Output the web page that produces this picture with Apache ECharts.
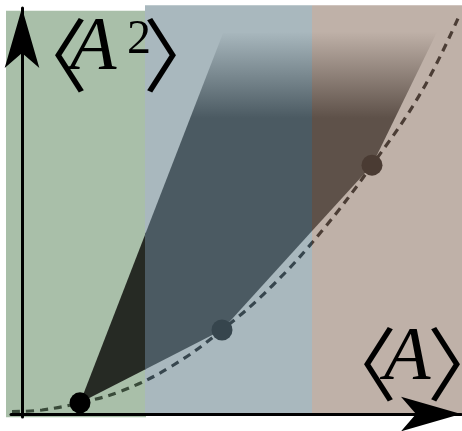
<!DOCTYPE html>
<html>
<head>
<meta charset="utf-8">
<script src="https://cdn.jsdelivr.net/npm/echarts@6/dist/echarts.min.js"></script>
<style>
  html, body { margin: 0; padding: 0; background: #ffffff; }
  #chart { width: 462px; height: 431px; }
</style>
</head>
<body>
<div id="chart"></div>
<script>
// Three sample states: mean <A> and mean square <A^2>
const pointX = [0.29, 1.0, 1.75];
const pointY = [0.14, 1.05, 3.11];

// The convex curve <A^2> = <A>^2, sampled along <A>
const curveX = [-0.05, 0.1, 0.29, 0.5, 0.75, 1.0, 1.25, 1.5, 1.75, 2.0, 2.19];
const curveY = [0.03, 0.05, 0.14, 0.29, 0.6, 1.05, 1.6, 2.29, 3.11, 4.04, 5.0];

// Outline of the attainable (<A>, <A^2>) region
const hullX = [0.29, 1.0, 1.75, 2.08, 1.005];
const hullY = [0.14, 1.05, 3.11, 4.8, 4.76];

// Shaded ranges of <A>
const bandFrom = [-0.08, 0.615, 1.45];
const bandTo = [0.62, 1.45, 2.2];
const bandBottom = [-0.04, 0, 0];
const bandTop = [5.04, 5.11, 5.11];

// Colours, one per range
const bandFill = ['#a9bfa9', '#a9b8be', '#bfb1a8'];
const regionFill = ['#262a24', '#4b5a62', '#5e5149'];
const curveColor = ['#3a4b3a', '#37464e', '#4b3d35'];
const pointColor = ['#000000', '#36454d', '#4a3b33'];

// Vertical fade at the top of the region (in <A^2> units)
const FADE_TOP = 4.78;
const FADE_BOTTOM = 3.7;

const chart = echarts.init(document.getElementById('chart'));

// Keep the part of a polygon on one side of a vertical line
function clipHalf(poly, keep, bound) {
  const out = [];
  for (let i = 0; i < poly.length; i++) {
    const a = poly[i];
    const b = poly[(i + 1) % poly.length];
    const ia = keep(a);
    const ib = keep(b);
    if (ia) out.push(a);
    if (ia !== ib) {
      const t = (bound - a[0]) / (b[0] - a[0]);
      out.push([bound, a[1] + t * (b[1] - a[1])]);
    }
  }
  return out;
}

const bandData = bandFrom.map((x, i) => [x, bandTo[i], bandBottom[i], bandTop[i]]);
const curveData = curveX.map((x, i) => [x, curveY[i]]);
const pointData = pointX.map((x, i) => ({
  value: [x, pointY[i]],
  itemStyle: { color: pointColor[i], opacity: 1 }
}));

// Axis titles: thin angle brackets around an italic serif letter
const BRACKET_FONT = '"Noto Sans CJK JP", "Noto Sans CJK SC", sans-serif';
const LETTER_FONT = '"Liberation Serif", "DejaVu Serif", serif';
function glyph(x, y, text, font, size, italic) {
  return {
    type: 'text',
    x: x,
    y: y,
    z: 20,
    silent: true,
    style: {
      text: text,
      fontFamily: font,
      fontSize: size,
      fontStyle: italic ? 'italic' : 'normal',
      fill: '#000',
      align: 'left',
      verticalAlign: 'middle'
    }
  };
}

const axisLine = {
  onZero: true,
  symbol: ['none', 'arrow'],
  symbolSize: [26, 60],
  lineStyle: { color: '#000', width: 3 }
};

const option = {
  animation: false,
  grid: { left: 11, right: 1, top: 8, bottom: 14 },
  xAxis: {
    type: 'value',
    min: -0.055,
    max: 2.195,
    z: 10,
    axisLine: axisLine,
    axisTick: { show: false },
    axisLabel: { show: false },
    splitLine: { show: false }
  },
  yAxis: {
    type: 'value',
    min: -0.0375,
    max: 5.075,
    z: 10,
    axisLine: axisLine,
    axisTick: { show: false },
    axisLabel: { show: false },
    splitLine: { show: false }
  },
  graphic: [
    // ⟨A²⟩ beside the vertical arrow
    glyph(8, 55, '〈', BRACKET_FONT, 80, false),
    glyph(70, 49, 'A', LETTER_FONT, 76, true),
    glyph(127, 40, '2', LETTER_FONT, 48, false),
    glyph(143, 55, '〉', BRACKET_FONT, 80, false),
    // ⟨A⟩ above the horizontal arrow
    glyph(317, 364, '〈', BRACKET_FONT, 80, false),
    glyph(384, 359, 'A', LETTER_FONT, 76, true),
    glyph(427, 364, '〉', BRACKET_FONT, 80, false)
  ],
  visualMap: {
    type: 'piecewise',
    show: false,
    seriesIndex: 2,
    dimension: 0,
    pieces: [
      { lt: bandTo[0], color: curveColor[0] },
      { gte: bandTo[0], lt: bandTo[1], color: curveColor[1] },
      { gte: bandTo[1], color: curveColor[2] }
    ]
  },
  series: [
    {
      // shaded ranges of <A>
      type: 'custom',
      clip: false,
      z: 1,
      silent: true,
      encode: { x: [0, 1], y: [2, 3] },
      data: bandData,
      renderItem: function (params, api) {
        const i = params.dataIndex;
        const p0 = api.coord([api.value(0), api.value(3)]);
        const p1 = api.coord([api.value(1), api.value(2)]);
        return {
          type: 'rect',
          shape: { x: p0[0], y: p0[1], width: p1[0] - p0[0], height: p1[1] - p0[1] },
          style: { fill: bandFill[i] }
        };
      }
    },
    {
      // attainable region, tinted separately inside each range
      type: 'custom',
      clip: false,
      z: 2,
      silent: true,
      encode: { x: [0, 1], y: [2, 3] },
      data: bandData,
      renderItem: function (params, api) {
        const i = params.dataIndex;
        const left = api.coord([api.value(0), 0])[0];
        const right = api.coord([api.value(1), 0])[0];
        let poly = hullX.map((x, k) => api.coord([x, hullY[k]]));
        poly = clipHalf(poly, p => p[0] >= left, left);
        poly = clipHalf(poly, p => p[0] <= right, right);
        if (poly.length < 3) return null;
        const yTop = api.coord([0, FADE_TOP])[1];
        const yBottom = api.coord([0, FADE_BOTTOM])[1];
        const c = regionFill[i];
        return {
          type: 'polygon',
          shape: { points: poly },
          style: {
            fill: new echarts.graphic.LinearGradient(0, yTop, 0, yBottom, [
              { offset: 0, color: echarts.color.modifyAlpha(c, 0) },
              { offset: 1, color: c }
            ], true)
          }
        };
      }
    },
    {
      type: 'line',
      clip: false,
      z: 3,
      silent: true,
      data: curveData,
      smooth: 0.4,
      showSymbol: false,
      lineStyle: { width: 3.2, type: [8, 6] }
    },
    {
      type: 'scatter',
      clip: false,
      z: 4,
      silent: true,
      symbolSize: 21,
      data: pointData
    }
  ]
};

chart.setOption(option);
</script>
</body>
</html>
